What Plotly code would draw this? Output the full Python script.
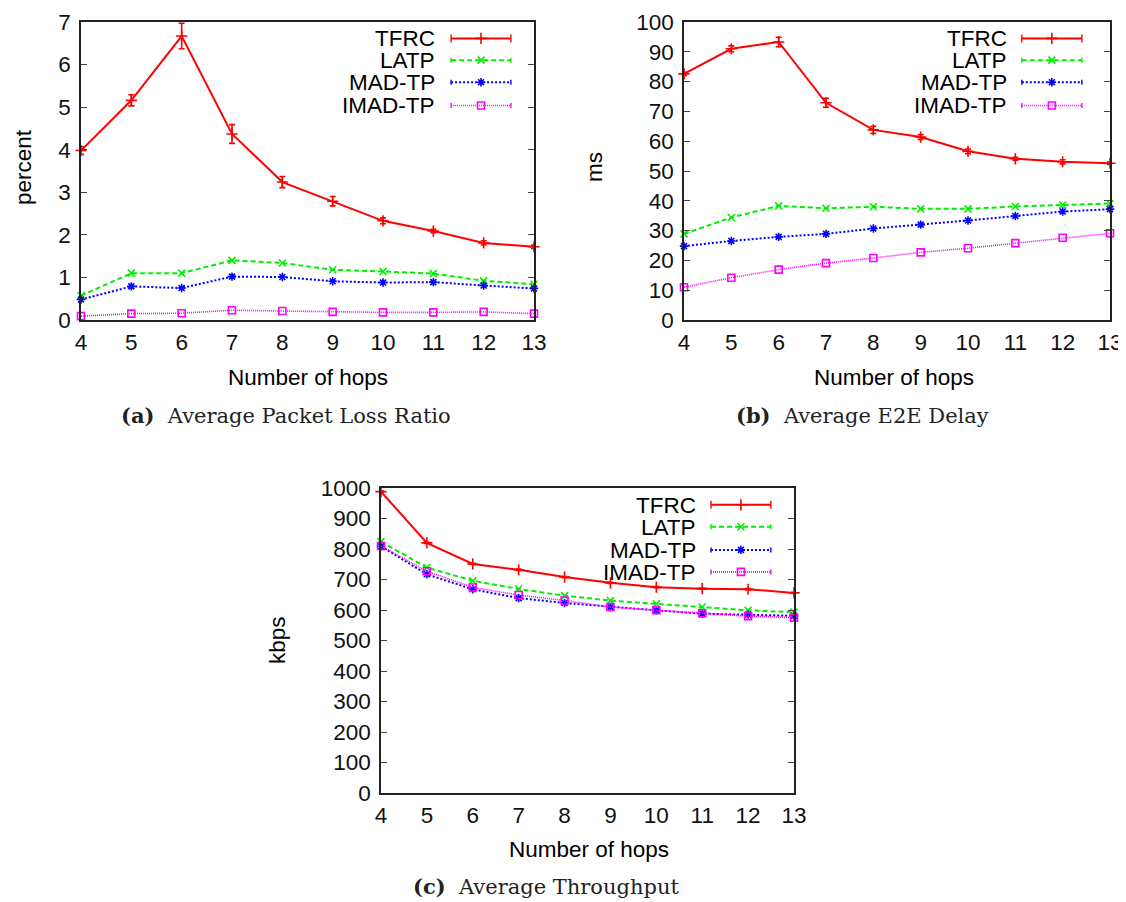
import plotly.graph_objects as go

# ---------------- data ----------------
HOPS = [4, 5, 6, 7, 8, 9, 10, 11, 12, 13]
SERIES = ["TFRC", "LATP", "MAD-TP", "IMAD-TP"]

# (a) Average Packet Loss Ratio (percent)
loss_tfrc = [3.98, 5.16, 6.67, 4.37, 3.24, 2.79, 2.33, 2.09, 1.81, 1.72]
loss_tfrc_err = [0.09, 0.13, 0.30, 0.22, 0.13, 0.11, 0.07, 0.04, 0.05, 0.04]
loss_latp = [0.57, 1.10, 1.10, 1.40, 1.34, 1.18, 1.14, 1.09, 0.92, 0.84]
loss_mad = [0.48, 0.79, 0.75, 1.02, 1.01, 0.91, 0.88, 0.89, 0.81, 0.74]
loss_imad = [0.09, 0.15, 0.16, 0.23, 0.21, 0.19, 0.18, 0.18, 0.19, 0.15]

# (b) Average E2E Delay (ms)
delay_tfrc = [82.6, 91.0, 93.3, 72.9, 63.8, 61.4, 56.6, 54.1, 53.1, 52.6]
delay_tfrc_err = [0.5, 1.0, 1.6, 1.5, 1.2, 0.8, 0.8, 0.5, 0.7, 0.4]
delay_latp = [28.9, 34.4, 38.3, 37.5, 38.0, 37.3, 37.3, 38.1, 38.6, 39.1]
delay_mad = [24.8, 26.5, 27.9, 28.9, 30.7, 32.0, 33.4, 34.9, 36.4, 37.2]
delay_imad = [11.0, 14.2, 16.9, 19.1, 20.8, 22.7, 24.1, 25.8, 27.6, 29.1]

# (c) Average Throughput (kbps)
thr_tfrc = [988, 820, 751, 732, 708, 689, 675, 670, 668, 656]
thr_tfrc_err = [2, 2, 2, 2, 2, 2, 2, 2, 2, 2]
thr_latp = [824, 739, 696, 669, 647, 631, 620, 610, 599, 593]
thr_mad = [809, 717, 668, 639, 623, 610, 599, 588, 585, 581]
thr_imad = [810, 727, 674, 649, 631, 610, 599, 589, 580, 575]

Y_TICKS_A = [0, 1, 2, 3, 4, 5, 6, 7]
Y_TICKS_B = [0, 10, 20, 30, 40, 50, 60, 70, 80, 90, 100]
Y_TICKS_C = [0, 100, 200, 300, 400, 500, 600, 700, 800, 900, 1000]

# ---------------- styles ----------------
PAGE_OFF = 8                      # default page (body) margin in front of the figure
W, H = 1126 - PAGE_OFF, 902 - PAGE_OFF

COLORS = {"TFRC": "#ff0000", "LATP": "#00ee00", "MAD-TP": "#0000ff", "IMAD-TP": "#ff00ff"}
DASH = {"TFRC": "solid", "LATP": "5px,3px", "MAD-TP": "2px,2px", "IMAD-TP": "1px,1px"}
SYMBOL = {"TFRC": "cross-thin-open", "LATP": "x-thin-open", "MAD-TP": "asterisk-open", "IMAD-TP": "square-open"}
MSIZE = {"TFRC": 8, "LATP": 7, "MAD-TP": 7, "IMAD-TP": 7}
LWIDTH = {"TFRC": 2, "LATP": 2, "MAD-TP": 2, "IMAD-TP": 1.6}
SANS = "Liberation Sans, Arial, sans-serif"
SERIF = "DejaVu Serif, serif"
FS = 22.5
FS_CAP = 21


def px_x(p):
    return min(1.0, max(0.0, (p - PAGE_OFF) / W))


def px_y(p):
    return min(1.0, max(0.0, 1 - (p - PAGE_OFF) / H))


# panel pixel boxes (reference picture): left, right, top, bottom
PANELS = [
    dict(box=(81, 534, 22, 320), yr=[0, 7], ticks=Y_TICKS_A,
         data=[loss_tfrc, loss_latp, loss_mad, loss_imad], err=loss_tfrc_err,
         ytitle="percent", ytitle_pos=(23, 167), xtitle_pos=(308, 377),
         caption="<b>(a)</b>  Average Packet Loss Ratio", cap_pos=(286, 415),
         leg=dict(text_x=0.784, line=(0.817, 0.949), rows=[0.945, 0.872, 0.798, 0.72])),
    dict(box=(684, 1110, 22, 320), yr=[0, 100], ticks=Y_TICKS_B,
         data=[delay_tfrc, delay_latp, delay_mad, delay_imad], err=delay_tfrc_err,
         ytitle="ms", ytitle_pos=(594, 167), xtitle_pos=(894, 377),
         caption="<b>(b)</b>  Average E2E Delay", cap_pos=(862, 415),
         leg=dict(text_x=0.761, line=(0.793, 0.934), rows=[0.945, 0.872, 0.798, 0.72])),
    dict(box=(381, 794, 488, 793), yr=[0, 1000], ticks=Y_TICKS_C,
         data=[thr_tfrc, thr_latp, thr_mad, thr_imad], err=thr_tfrc_err,
         ytitle="kbps", ytitle_pos=(277, 640), xtitle_pos=(589, 849),
         caption="<b>(c)</b>  Average Throughput", cap_pos=(546, 886),
         leg=dict(text_x=0.765, line=(0.799, 0.944), rows=[0.945, 0.873, 0.797, 0.725])),
]

fig = go.Figure()
annotations = []
shapes = []

for i, p in enumerate(PANELS):
    n = i + 1
    xa = "x" if n == 1 else f"x{n}"
    ya = "y" if n == 1 else f"y{n}"
    l, r, t, b = p["box"]
    xdom = [px_x(l), px_x(r)]
    ydom = [px_y(b), px_y(t)]
    fig.update_layout(**{
        ("xaxis" if n == 1 else f"xaxis{n}"): dict(
            domain=xdom, anchor=ya, range=[4, 13], tickmode="array", tickvals=HOPS,
            ticks="", showline=True, mirror=True, linecolor="#222", linewidth=1.5,
            showgrid=False, zeroline=False, ticklabelstandoff=1, automargin=False,
            ticklabeloverflow="allow",
            tickfont=dict(family=SANS, size=FS, color="#111")),
        ("yaxis" if n == 1 else f"yaxis{n}"): dict(
            domain=ydom, anchor=xa, range=p["yr"], tickmode="array", tickvals=p["ticks"],
            ticks="inside", ticklen=6, tickwidth=1.2, tickcolor="#444",
            showline=True, mirror="allticks", linecolor="#222", linewidth=1.5,
            showgrid=False, zeroline=False, ticklabelstandoff=4, automargin=False,
            ticklabeloverflow="allow",
            tickfont=dict(family=SANS, size=FS, color="#111")),
    })
    for k, name in enumerate(SERIES):
        tr = dict(
            x=HOPS, y=p["data"][k], mode="lines+markers", name=name, showlegend=False,
            xaxis=xa, yaxis=ya, cliponaxis=False,
            line=dict(color=COLORS[name], width=LWIDTH[name], dash=DASH[name]),
            marker=dict(symbol=SYMBOL[name], size=MSIZE[name], color=COLORS[name],
                        line=dict(color=COLORS[name], width=1.6)),
        )
        if name == "TFRC":
            tr["error_y"] = dict(type="data", array=p["err"], visible=True,
                                 color=COLORS[name], thickness=1.6, width=3)
        fig.add_trace(go.Scatter(**tr))

    # legend (gnuplot style: text on the left, sample on the right)
    lg = p["leg"]
    for k, name in enumerate(SERIES):
        yrow = lg["rows"][k]
        annotations.append(dict(
            text=name, xref=f"{xa} domain", yref=f"{ya} domain", x=lg["text_x"], y=yrow,
            xanchor="right", yanchor="middle", showarrow=False, height=20, borderpad=0,
            valign="middle", font=dict(family=SANS, size=FS, color="#000")))
        x0, x1 = lg["line"]
        shapes.append(dict(
            type="line", xref=f"{xa} domain", yref=f"{ya} domain",
            x0=x0, x1=x1, y0=yrow, y1=yrow,
            line=dict(color=COLORS[name], width=LWIDTH[name], dash=DASH[name])))
        hh = (4 if name == "TFRC" else 2.5) / (b - t)
        for xe in (x0, x1):
            shapes.append(dict(type="line", xref=f"{xa} domain", yref=f"{ya} domain",
                               x0=xe, x1=xe, y0=yrow - hh, y1=yrow + hh,
                               line=dict(color=COLORS[name], width=1.4)))
    # overlay axes (0..1) used only to place the legend sample markers
    oxa = f"xaxis{n + 3}"
    oya = f"yaxis{n + 3}"
    fig.update_layout(**{
        oxa: dict(overlaying=xa, anchor=f"y{n + 3}", range=[0, 1], visible=False,
                  fixedrange=True, automargin=False),
        oya: dict(overlaying=ya, anchor=f"x{n + 3}", range=[0, 1], visible=False,
                  fixedrange=True, automargin=False),
    })
    for k, name in enumerate(SERIES):
        fig.add_trace(go.Scatter(
            x=[(lg["line"][0] + lg["line"][1]) / 2], y=[lg["rows"][k]],
            mode="markers", showlegend=False, hoverinfo="skip",
            xaxis=f"x{n + 3}", yaxis=f"y{n + 3}",
            marker=dict(symbol=SYMBOL[name], size=MSIZE[name], color=COLORS[name],
                        line=dict(color=COLORS[name], width=1.6))))

    # axis titles and caption
    yx, yy = p["ytitle_pos"]
    annotations.append(dict(text=p["ytitle"], xref="paper", yref="paper",
                            x=px_x(yx), y=px_y(yy), textangle=-90, showarrow=False,
                            xanchor="center", yanchor="middle",
                            font=dict(family=SANS, size=FS, color="#000")))
    tx, ty = p["xtitle_pos"]
    annotations.append(dict(text="Number of hops", xref="paper", yref="paper",
                            x=px_x(tx), y=px_y(ty), showarrow=False,
                            xanchor="center", yanchor="middle",
                            font=dict(family=SANS, size=FS, color="#000")))
    cx, cy = p["cap_pos"]
    annotations.append(dict(text=p["caption"], xref="paper", yref="paper",
                            x=px_x(cx), y=px_y(cy), showarrow=False,
                            xanchor="center", yanchor="middle",
                            font=dict(family=SERIF, size=FS_CAP, color="#222")))

fig.update_layout(
    width=W, height=H, margin=dict(l=0, r=0, t=0, b=0, pad=0, autoexpand=False),
    paper_bgcolor="white", plot_bgcolor="white",
    showlegend=False, annotations=annotations, shapes=shapes,
)

fig.write_html("out.html")
